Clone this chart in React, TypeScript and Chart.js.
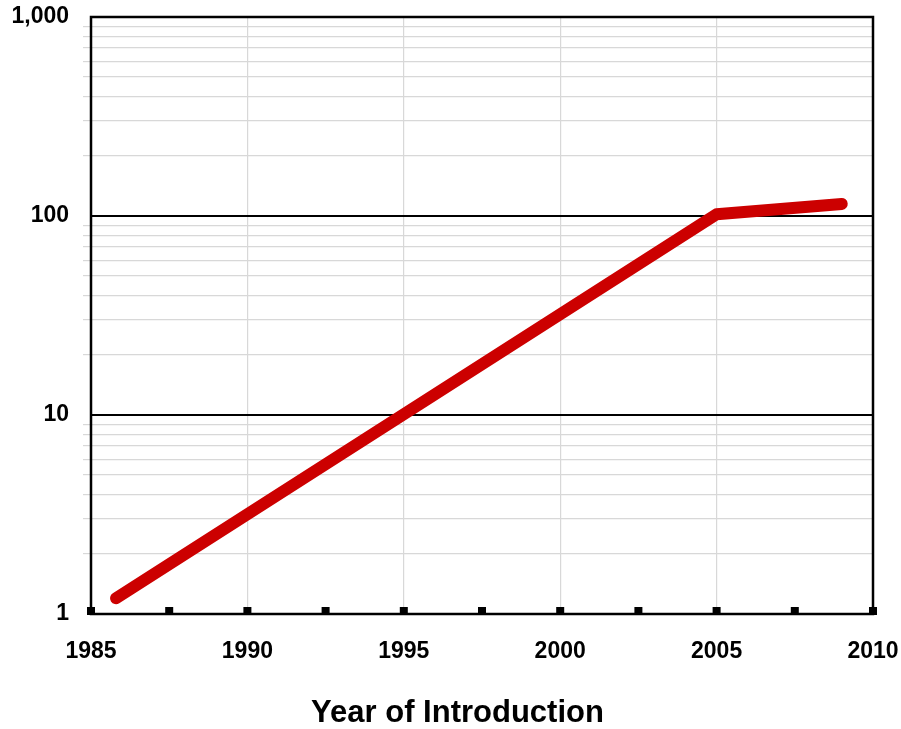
import React, { useEffect, useRef } from "react";
import { Chart, registerables } from "chart.js";

Chart.register(...registerables);

const years = [1985.8, 2005, 2009];
const values = [1.2, 102, 115];
const yTickValues = [1, 2, 3, 4, 5, 6, 7, 8, 9, 10, 20, 30, 40, 50, 60, 70, 80, 90, 100, 200, 300, 400, 500, 600, 700, 800, 900, 1000];
const yLabelValues = [1, 10, 100, 1000];
const xLabelValues = [1985, 1990, 1995, 2000, 2005, 2010];
const xTitle = "Year of Introduction";

const FONT = "'Liberation Sans', Arial, Helvetica, sans-serif";

const boxPlugin = {
  id: "boxPlugin",
  afterDraw(chart: any) {
    const { ctx, chartArea } = chart;
    const xs = chart.scales.x;
    ctx.save();
    ctx.strokeStyle = "#000";
    ctx.lineWidth = 2.5;
    ctx.strokeRect(chartArea.left, chartArea.top, chartArea.right - chartArea.left, chartArea.bottom - chartArea.top);
    ctx.fillStyle = "#000";
    xs.ticks.forEach((t: any) => {
      const px = xs.getPixelForValue(t.value);
      ctx.fillRect(px - 4, chartArea.bottom - 7, 8, 8);
    });
    ctx.font = `bold 31px ${FONT}`;
    ctx.textAlign = "center";
    ctx.textBaseline = "alphabetic";
    ctx.fillText(xTitle, chart.width / 2 + 7, chart.height - 7);
    ctx.restore();
  },
};

export default function App() {
  const ref = useRef<HTMLCanvasElement | null>(null);
  useEffect(() => {
    if (!ref.current) return;
    const chart = new Chart(ref.current, {
      type: "line",
      data: {
        datasets: [
          {
            data: years.map((x, i) => ({ x, y: values[i] })),
            borderColor: "#cc0000",
            borderWidth: 12,
            borderCapStyle: "round",
            borderJoinStyle: "round",
            pointRadius: 0,
            fill: false,
          },
        ],
      },
      options: {
        animation: false,
        responsive: true,
        maintainAspectRatio: false,
        layout: { padding: { top: 17, right: 28, left: 0, bottom: 0 } },
        plugins: { legend: { display: false }, tooltip: { enabled: false } },
        scales: {
          x: {
            type: "linear",
            min: 1985,
            max: 2010,
            border: { display: false },
            ticks: {
              stepSize: 2.5,
              autoSkip: false,
              maxRotation: 0,
              padding: 24,
              color: "#000",
              font: { family: FONT, size: 23, weight: "bold" },
              callback: (v: any) => (xLabelValues.includes(Number(v)) ? String(v) : ""),
            },
            grid: {
              drawTicks: false,
              color: (c: any) => {
                const v = c.tick?.value;
                return v % 5 === 0 && v > 1985 && v < 2010 ? "#d8d8d8" : "rgba(0,0,0,0)";
              },
              lineWidth: 1.2,
            },
            afterFit: (s: any) => {
              s.height = 115;
              s.paddingLeft = 0;
              s.paddingRight = 0;
            },
          },
          y: {
            type: "logarithmic",
            min: 1,
            max: 1000,
            border: { display: false },
            afterBuildTicks: (s: any) => {
              s.ticks = yTickValues.map((v) => ({ value: v }));
            },
            ticks: {
              autoSkip: false,
              padding: 14,
              color: "#000",
              font: { family: FONT, size: 23, weight: "bold" },
              callback: (v: any) => (yLabelValues.includes(Number(v)) ? Number(v).toLocaleString("en-US") : ""),
            },
            grid: {
              tickLength: 8,
              color: (c: any) => {
                const v = c.tick?.value;
                if (v === 10 || v === 100) return "#000";
                if (v === 1 || v === 1000) return "rgba(0,0,0,0)";
                return "#d8d8d8";
              },
              lineWidth: (c: any) => {
                const v = c.tick?.value;
                return v === 10 || v === 100 ? 2 : 1.2;
              },
              tickColor: (c: any) => {
                const v = c.tick?.value;
                return yLabelValues.includes(v) ? "rgba(0,0,0,0)" : "#d8d8d8";
              },
            },
            afterFit: (s: any) => {
              s.width = 91;
              s.paddingTop = 0;
              s.paddingBottom = 0;
            },
          },
        },
      },
      plugins: [boxPlugin],
    } as any);
    return () => chart.destroy();
  }, []);
  return (
    <div style={{ position: "fixed", left: 0, top: 0, width: 901, height: 729, background: "#fff" }}>
      <canvas ref={ref} />
    </div>
  );
}
